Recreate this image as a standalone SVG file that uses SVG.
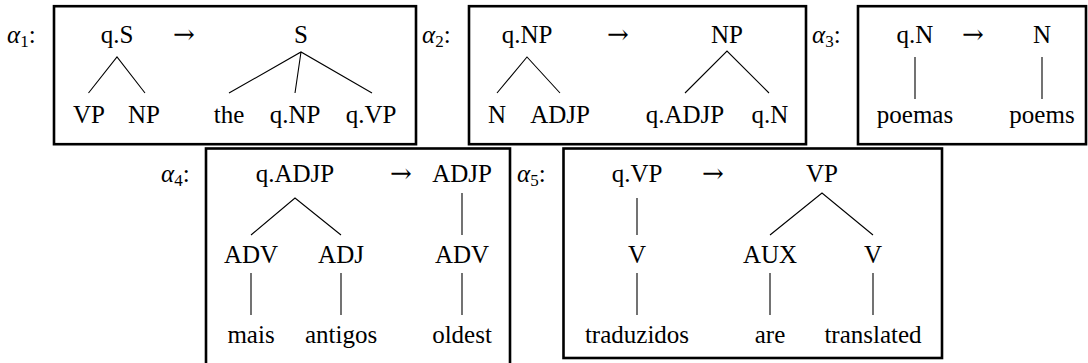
<svg xmlns="http://www.w3.org/2000/svg" width="1088" height="363" viewBox="0 0 1088 363">
  <style>
    text { font-family: "Liberation Serif", "Times New Roman", serif; font-size: 25px; fill: #000; text-anchor: middle; }
    .lab { text-anchor: start; }
    .it { font-style: italic; }
    .sub { font-size: 17px; }
    .arr { font-family: "DejaVu Serif", serif; font-size: 26px; }
    .box { fill: #fff; stroke: #000; stroke-width: 2.6; }
    .edge { stroke: #000; stroke-width: 1.1; fill: none; }
  </style>
  <rect width="1088" height="363" fill="#fff"/>

  <!-- rule frames -->
  <g id="frames">
    <rect class="box" x="54" y="6.2" width="362" height="138"/>
    <rect class="box" x="469" y="6.2" width="337" height="138"/>
    <rect class="box" x="858" y="6.2" width="228" height="138"/>
    <rect class="box" x="206" y="148.5" width="304" height="220"/>
    <rect class="box" x="563.5" y="148.5" width="378.5" height="209.5"/>
  </g>

  <!-- rule labels -->
  <g id="labels">
    <text class="lab" x="7" y="43"><tspan class="it">α</tspan><tspan class="sub" dy="3.5">1</tspan><tspan dy="-3.5">:</tspan></text>
    <text class="lab" x="422" y="43"><tspan class="it">α</tspan><tspan class="sub" dy="3.5">2</tspan><tspan dy="-3.5">:</tspan></text>
    <text class="lab" x="812" y="43"><tspan class="it">α</tspan><tspan class="sub" dy="3.5">3</tspan><tspan dy="-3.5">:</tspan></text>
    <text class="lab" x="161" y="182"><tspan class="it">α</tspan><tspan class="sub" dy="3.5">4</tspan><tspan dy="-3.5">:</tspan></text>
    <text class="lab" x="517" y="182"><tspan class="it">α</tspan><tspan class="sub" dy="3.5">5</tspan><tspan dy="-3.5">:</tspan></text>
  </g>

  <!-- tree edges -->
  <g id="connectors">
    <!-- alpha1 -->
    <path class="edge" d="M88.5 93 L117 57 L145 93"/>
    <path class="edge" d="M229 93 L301 52 L372 93 M301 52 L295 93"/>
    <!-- alpha2 -->
    <path class="edge" d="M497 93 L527 57 L560 93"/>
    <path class="edge" d="M685 93 L727 51 L769 93"/>
    <!-- alpha3 -->
    <path class="edge" d="M915 57 V99 M1042 57 V99"/>
    <!-- alpha4 -->
    <path class="edge" d="M251 235 L295 198 L341 235"/>
    <path class="edge" d="M251 273 V315 M341 273 V315"/>
    <path class="edge" d="M462 193 V235 M462 273 V315"/>
    <!-- alpha5 -->
    <path class="edge" d="M637 198 V235 M637 273 V315"/>
    <path class="edge" d="M770 235 L822 193 L873 235"/>
    <path class="edge" d="M770 273 V315 M873 273 V315"/>
  </g>

  <g id="rule1">
    <text x="117" y="43">q.S</text>
    <text class="arr" x="184" y="43">→</text>
    <text x="301" y="43">S</text>
    <text x="89" y="123">VP</text>
    <text x="144" y="123">NP</text>
    <text x="229" y="123">the</text>
    <text x="295" y="123">q.NP</text>
    <text x="371" y="123">q.VP</text>
  </g>

  <g id="rule2">
    <text x="527" y="43">q.NP</text>
    <text class="arr" x="618" y="43">→</text>
    <text x="727" y="43">NP</text>
    <text x="497" y="123">N</text>
    <text x="560" y="123">ADJP</text>
    <text x="685" y="123">q.ADJP</text>
    <text x="770" y="123">q.N</text>
  </g>

  <g id="rule3">
    <text x="915" y="43">q.N</text>
    <text class="arr" x="973" y="43">→</text>
    <text x="1042" y="43">N</text>
    <text x="915" y="123">poemas</text>
    <text x="1042" y="123">poems</text>
  </g>

  <g id="rule4">
    <text x="295" y="182">q.ADJP</text>
    <text class="arr" x="401" y="182">→</text>
    <text x="462" y="182">ADJP</text>
    <text x="251" y="263">ADV</text>
    <text x="341" y="263">ADJ</text>
    <text x="462" y="263">ADV</text>
    <text x="251" y="343">mais</text>
    <text x="341" y="343">antigos</text>
    <text x="462" y="343">oldest</text>
  </g>

  <g id="rule5">
    <text x="637" y="182">q.VP</text>
    <text class="arr" x="713" y="182">→</text>
    <text x="822" y="182">VP</text>
    <text x="637" y="263">V</text>
    <text x="770" y="263">AUX</text>
    <text x="873" y="263">V</text>
    <text x="637" y="343">traduzidos</text>
    <text x="770" y="343">are</text>
    <text x="873" y="343">translated</text>
  </g>
</svg>
